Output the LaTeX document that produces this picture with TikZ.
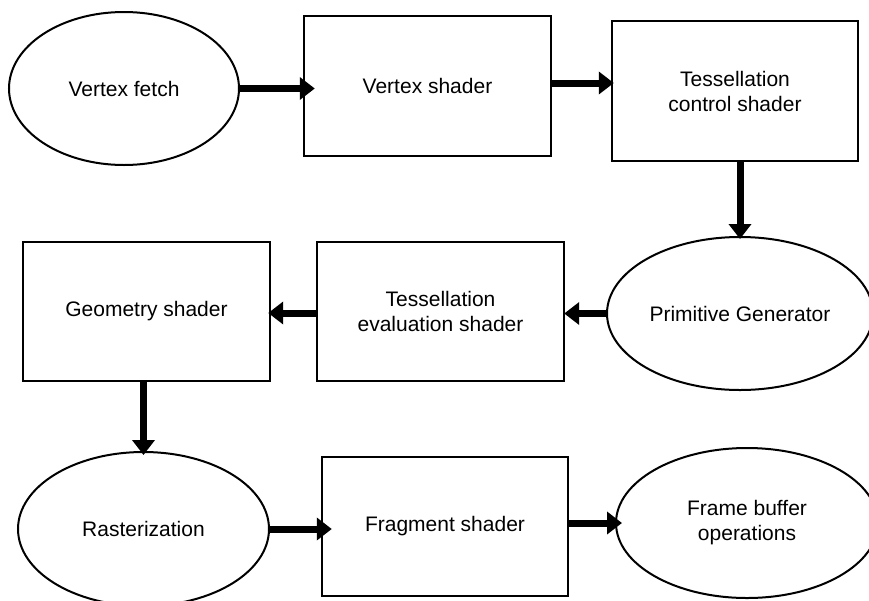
\documentclass[tikz,border=0pt]{standalone}
\usepackage{fontspec}
\setmainfont{Liberation Sans}
\usetikzlibrary{shapes.geometric,arrows.meta}
\tikzset{
  boxnode/.style={draw, line width=2.4pt, rectangle, inner sep=0pt, align=center, font=\fontsize{21}{25}\selectfont},
  ellnode/.style={draw, line width=2pt, ellipse, inner sep=0pt, align=center, font=\fontsize{21}{25}\selectfont},
  arr/.style={line width=7pt, -{Triangle[length=15pt,width=22pt]}}
}
\begin{document}
\begin{tikzpicture}[x=1pt,y=-1pt]
\clip (0,0) rectangle (869,600);
\fill[white] (0,0) rectangle (869,600);
\node[ellnode, minimum width=230pt, minimum height=153pt] (vf) at (124,88.5) {Vertex fetch};
\node[boxnode, minimum width=247pt, minimum height=140pt] (vs) at (427.5,86) {Vertex shader};
\node[boxnode, minimum width=246pt, minimum height=140pt] (tcs) at (735,91) {Tessellation\\control shader};
\node[ellnode, minimum width=266pt, minimum height=153pt] (pg) at (740,313.5) {Primitive Generator};
\node[boxnode, minimum width=247pt, minimum height=139pt] (tes) at (440.5,311.5) {Tessellation\\evaluation shader};
\node[boxnode, minimum width=247pt, minimum height=139pt] (gs) at (146.5,311.5) {Geometry shader};
\node[ellnode, minimum width=251pt, minimum height=154pt] (ras) at (143.5,529) {Rasterization};
\node[boxnode, minimum width=246pt, minimum height=139pt] (fs) at (445,526.5) {Fragment shader};
\node[ellnode, minimum width=262pt, minimum height=150pt] (fbo) at (747,523) {Frame buffer\\operations};

\draw[arr, shorten >=-12pt] (vf.east) -- (vf.east -| vs.west);
\draw[arr, shorten >=-3pt] ([yshift=3pt]vs.east) -- ([yshift=3pt]vs.east -| tcs.west);
\draw[arr, shorten >=-3pt] (pg.north |- tcs.south) -- (pg.north);
\draw[arr, shorten >=-1pt] (pg.west) -- (pg.west -| tes.east);
\draw[arr, shorten >=-3pt] ([yshift=-1.5pt]tes.west) -- ([yshift=-1.5pt]tes.west -| gs.east);
\draw[arr, shorten >=-4pt] (ras.north |- gs.south) -- (ras.north);
\draw[arr, shorten >=-11pt] (ras.east) -- (ras.east -| fs.west);
\draw[arr, shorten >=-7pt] (fbo.west -| fs.east) -- (fbo.west);
\end{tikzpicture}
\end{document}
